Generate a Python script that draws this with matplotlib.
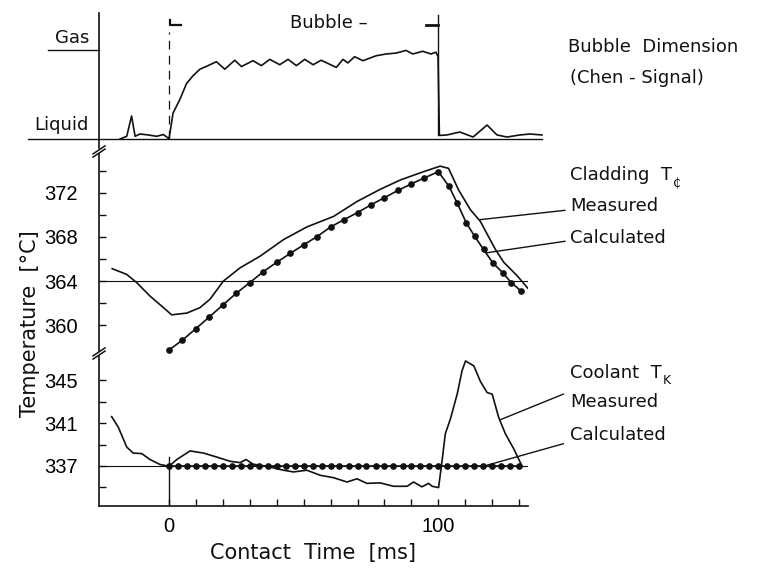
import numpy as np
import matplotlib.pyplot as plt
from matplotlib.lines import Line2D

# --- Chen signal: 0 = liquid, 1 = gas ---
chen_t = [-18.2, -15.7, -13.9, -12.6, -10.8, -7.7, -4.6, -2.1, -0.3, 0.0,
          1.5, 4.0, 6.5, 9.0, 11.5, 14.5, 17.6, 20.7, 24.4, 26.9, 31.2, 34.3,
          37.4, 41.1, 44.2, 47.3, 50.4, 53.5, 56.5, 62.1, 64.6, 66.4, 68.9,
          72.0, 76.9, 80.6, 84.3, 88.0, 90.5, 94.2, 97.3, 99.1, 99.9, 100.4,
          103.2, 108.0, 112.9, 118.1, 121.8, 125.5, 130.3, 134.0, 138.5]
chen_v = [0.0, 0.03, 0.257, 0.03, 0.056, 0.045, 0.03, 0.05, 0.01, 0.0,
          0.29, 0.44, 0.62, 0.71, 0.78, 0.82, 0.864, 0.78, 0.88, 0.81, 0.875, 0.82,
          0.89, 0.83, 0.89, 0.82, 0.89, 0.83, 0.88, 0.80, 0.89, 0.85, 0.92,
          0.875, 0.93, 0.95, 0.96, 0.99, 0.95, 0.98, 0.95, 0.97, 0.92, 0.04,
          0.045, 0.078, 0.022, 0.156, 0.045, 0.022, 0.045, 0.056, 0.045]

# --- cladding temperature ---
clad_meas_t = [-21.1, -15.7, -12.0, -7.1, -2.1, 1.0, 2.9, 6.6, 11.5, 15.2,
               20.2, 26.4, 33.8, 42.5, 51.2, 61.1, 69.8, 78.4, 85.9, 94.5,
               100.7, 103.8, 107.5, 111.9, 115.6, 121.2, 124.3, 129.2, 133.6]
clad_meas_T = [365.12, 364.6, 363.86, 362.65, 361.6, 360.94, 361.0, 361.1,
               361.6, 362.35, 364.0, 365.2, 366.25, 367.75, 368.9, 369.85,
               371.2, 372.3, 373.15, 373.9, 374.4, 374.2, 372.26, 370.46,
               369.4, 366.86, 365.7, 364.5, 363.25]
clad_calc_t = [0, 5, 10, 15, 20, 25, 30, 35, 40, 45, 50, 55, 60, 65, 70, 75,
               80, 85, 90, 94.5, 100, 104, 107, 110.4, 113.5, 116.8, 120.2,
               123.9, 127.1, 130.7]
clad_calc_T = [357.76, 358.66, 359.7, 360.76, 361.84, 362.9, 363.86, 364.85,
               365.7, 366.5, 367.28, 368.03, 368.9, 369.56, 370.2, 370.9,
               371.55, 372.2, 372.8, 373.3, 373.9, 372.56, 371.06, 369.26,
               368.05, 366.86, 365.66, 364.76, 363.86, 363.1]

# --- coolant temperature ---
cool_meas_t = [-21.3, -18.8, -15.7, -13.3, -10.1, -7.1, -3.3, 0.0, 2.9, 7.8,
               12.8, 17.7, 22.7, 26.4, 28.6, 31.3, 36.3, 42.5, 46.2, 51.2,
               56.1, 61.1, 66.1, 69.8, 73.5, 78.4, 83.4, 88.4, 90.8, 93.9,
               96.4, 97.7, 100.1, 101.4, 102.6, 104.5, 107.0, 108.8, 110.1,
               113.2, 115.6, 118.1, 120.0, 122.4, 124.9, 128.0, 131.1]
cool_meas_T = [341.6, 340.6, 338.76, 338.2, 338.15, 337.6, 337.13, 336.97,
               337.6, 338.4, 338.2, 337.83, 337.43, 337.31, 337.6, 337.16,
               336.97, 336.6, 336.44, 336.6, 336.13, 335.9, 335.5, 335.8,
               335.37, 335.42, 335.1, 335.1, 335.5, 335.05, 335.37, 335.1,
               334.98, 337.5, 340.0, 341.4, 343.7, 345.87, 346.8, 346.33,
               344.9, 343.85, 343.7, 341.54, 340.0, 338.6, 336.97]
cool_calc_t = [0, 3.3, 6.7, 10, 13.3, 16.7, 20, 23.3, 26.7, 30, 33.3, 36.7,
               40, 43.3, 46.7, 50, 53.3, 56.7, 60, 63.3, 66.7, 70, 73.3, 76.7,
               80, 83.3, 86.7, 90, 93.3, 96.7, 100, 103.3, 106.7, 110, 113.3,
               116.7, 120, 123.3, 126.7, 130]
cool_calc_T = [336.95, 336.95, 336.95, 336.95, 336.95, 336.95, 336.95, 336.95,
               336.95, 336.95, 336.95, 336.95, 336.95, 336.95, 336.95, 336.95,
               336.95, 336.95, 336.95, 336.95, 336.95, 336.95, 336.95, 336.95,
               336.95, 336.95, 336.95, 336.95, 336.95, 336.95, 336.95, 336.95,
               336.95, 336.95, 336.95, 336.95, 336.95, 336.95, 336.95, 336.95]

clad_ticks = [360, 364, 368, 372]
clad_minor = [362, 366, 370, 374]
cool_ticks = [337, 341, 345]
cool_minor = [335, 339, 343]
time_ticks = [0, 100]
time_minor = [10, 20, 30, 40, 50, 60, 70, 80, 90, 110, 120, 130]

W, H = 769, 570
INK = '#111111'
LW = 1.2
TXT = dict(family='DejaVu Sans', fontsize=13, color=INK)
NUM = dict(family='Liberation Sans', fontsize=14.5)


def fx(px):
    return px / W


def fy(py):
    return 1 - py / H


def axes_px(top, bottom, left=99, right=528):
    return [fx(left), fy(bottom), fx(right) - fx(left), fy(top) - fy(bottom)]


def with_sub(ax, x, y, main, sub):
    # label followed by a small subscript placed right after it
    t = ax.text(x, y, main, ha='left', va='center', clip_on=False, **TXT)
    ax.annotate(sub, xy=(1.0, 0.0), xycoords=t, xytext=(0.5, 1),
                textcoords='offset points', ha='left', va='center',
                family='DejaVu Sans', fontsize=9, color=INK,
                annotation_clip=False)


fig = plt.figure(figsize=(W / 100, H / 100), dpi=100)
X0, X1 = -26.0, 133.3

ax_sig = fig.add_axes(axes_px(13, 148))
ax_clad = fig.add_axes(axes_px(154, 351))
ax_cool = fig.add_axes(axes_px(356, 506))

for ax in (ax_sig, ax_clad, ax_cool):
    ax.set_xlim(X0, X1)
    ax.patch.set_alpha(0)
    for side in ('top', 'right', 'bottom'):
        ax.spines[side].set_visible(False)
    ax.spines['left'].set_linewidth(LW)
    ax.spines['left'].set_color(INK)
    ax.tick_params(which='both', direction='in', length=5, width=1,
                   color=INK, pad=15)

# ---- bubble signal ----
ax_sig.set_ylim(-0.1006, 1.408)
ax_sig.set_xticks([])
ax_sig.set_yticks([])
ax_sig.plot([-52.4, 138.5], [0, 0], color=INK, lw=1.0, clip_on=False)
ax_sig.plot([-44.9, -26.0], [1, 1], color=INK, lw=1.0, clip_on=False)
ax_sig.plot(chen_t, chen_v, color=INK, lw=LW, clip_on=False)
ax_sig.plot([0, 0], [0, 1.196], color=INK, lw=0.9, ls=(0, (7, 5)))
ax_sig.plot([100, 100], [0.04, 1.385], color=INK, lw=1.0)
# bubble start / end markers
ax_sig.plot([0.4, 0.4, 4.5], [1.33, 1.274, 1.274], color=INK, lw=1.6)
ax_sig.plot([95.6, 100], [1.274, 1.274], color=INK, lw=2.0)
ax_sig.text(44.9, 1.296, 'Bubble –', ha='left', va='center', **TXT)
ax_sig.text(-29.5, 1.128, 'Gas', ha='right', va='center', **TXT)
ax_sig.text(-29.7, 0.156, 'Liquid', ha='right', va='center', **TXT)
ax_sig.text(148.2, 1.03, 'Bubble  Dimension', ha='left', va='center',
            clip_on=False, **TXT)
ax_sig.text(148.9, 0.68, '(Chen - Signal)', ha='left', va='center',
            clip_on=False, **TXT)

# ---- cladding ----
ax_clad.set_ylim(357.67, 375.5)
ax_clad.set_yticks(clad_ticks)
ax_clad.set_yticks(clad_minor, minor=True)
ax_clad.set_yticklabels([str(v) for v in clad_ticks], **NUM)
ax_clad.set_xticks([])
ax_clad.axhline(364, color=INK, lw=0.8)
ax_clad.plot(clad_meas_t, clad_meas_T, color=INK, lw=LW)
ax_clad.plot(clad_calc_t, clad_calc_T, color=INK, lw=LW, marker='o',
             ms=3.8, clip_on=False)
ax_clad.plot([115.5, 147.0], [369.56, 370.4], color=INK, lw=1.0, clip_on=False)
ax_clad.plot([118.0, 147.0], [366.56, 367.6], color=INK, lw=1.0, clip_on=False)
with_sub(ax_clad, 148.9, 373.6, 'Cladding  T', '₵')
ax_clad.text(148.9, 370.76, 'Measured', ha='left', va='center',
             clip_on=False, **TXT)
ax_clad.text(148.9, 367.94, 'Calculated', ha='left', va='center',
             clip_on=False, **TXT)

# ---- coolant ----
ax_cool.set_ylim(333.26, 347.26)
ax_cool.set_yticks(cool_ticks)
ax_cool.set_yticks(cool_minor, minor=True)
ax_cool.set_yticklabels([str(v) for v in cool_ticks], **NUM)
ax_cool.spines['bottom'].set_visible(True)
ax_cool.spines['bottom'].set_linewidth(LW)
ax_cool.spines['bottom'].set_color(INK)
ax_cool.set_xticks(time_ticks)
ax_cool.set_xticks(time_minor, minor=True)
ax_cool.set_xticklabels([str(v) for v in time_ticks], **NUM)
ax_cool.tick_params(axis='x', which='both', pad=8)
ax_cool.axhline(337, color=INK, lw=0.8)
ax_cool.plot([0, 0], [333.26, 337.83], color=INK, lw=1.0)
ax_cool.plot(cool_meas_t, cool_meas_T, color=INK, lw=LW)
ax_cool.plot(cool_calc_t, cool_calc_T, color=INK, lw=LW, marker='o', ms=3.8,
             clip_on=False)
ax_cool.plot([122.9, 146.4], [341.3, 343.7], color=INK, lw=1.0, clip_on=False)
ax_cool.plot([118.0, 146.4], [337.06, 339.07], color=INK, lw=1.0, clip_on=False)
with_sub(ax_cool, 148.9, 345.7, 'Coolant  T', 'K')
ax_cool.text(148.9, 342.93, 'Measured', ha='left', va='center',
             clip_on=False, **TXT)
ax_cool.text(148.9, 339.93, 'Calculated', ha='left', va='center',
             clip_on=False, **TXT)

# axis break marks on the temperature scale
for yb in (151.5, 353.5):
    for dy in (-1.6, 1.6):
        fig.add_artist(Line2D([fx(93), fx(105)], [fy(yb + dy + 4), fy(yb + dy - 4)],
                              color=INK, lw=1.1, transform=fig.transFigure))

fig.text(fx(30), fy(324), 'Temperature  [°C]', rotation=90, ha='center',
         va='center', family='DejaVu Sans', fontsize=15, color=INK)
fig.text(fx(313), fy(553), 'Contact  Time  [ms]', ha='center', va='center',
         family='DejaVu Sans', fontsize=15, color=INK)

fig.savefig('out.png', dpi=100, facecolor='white')
